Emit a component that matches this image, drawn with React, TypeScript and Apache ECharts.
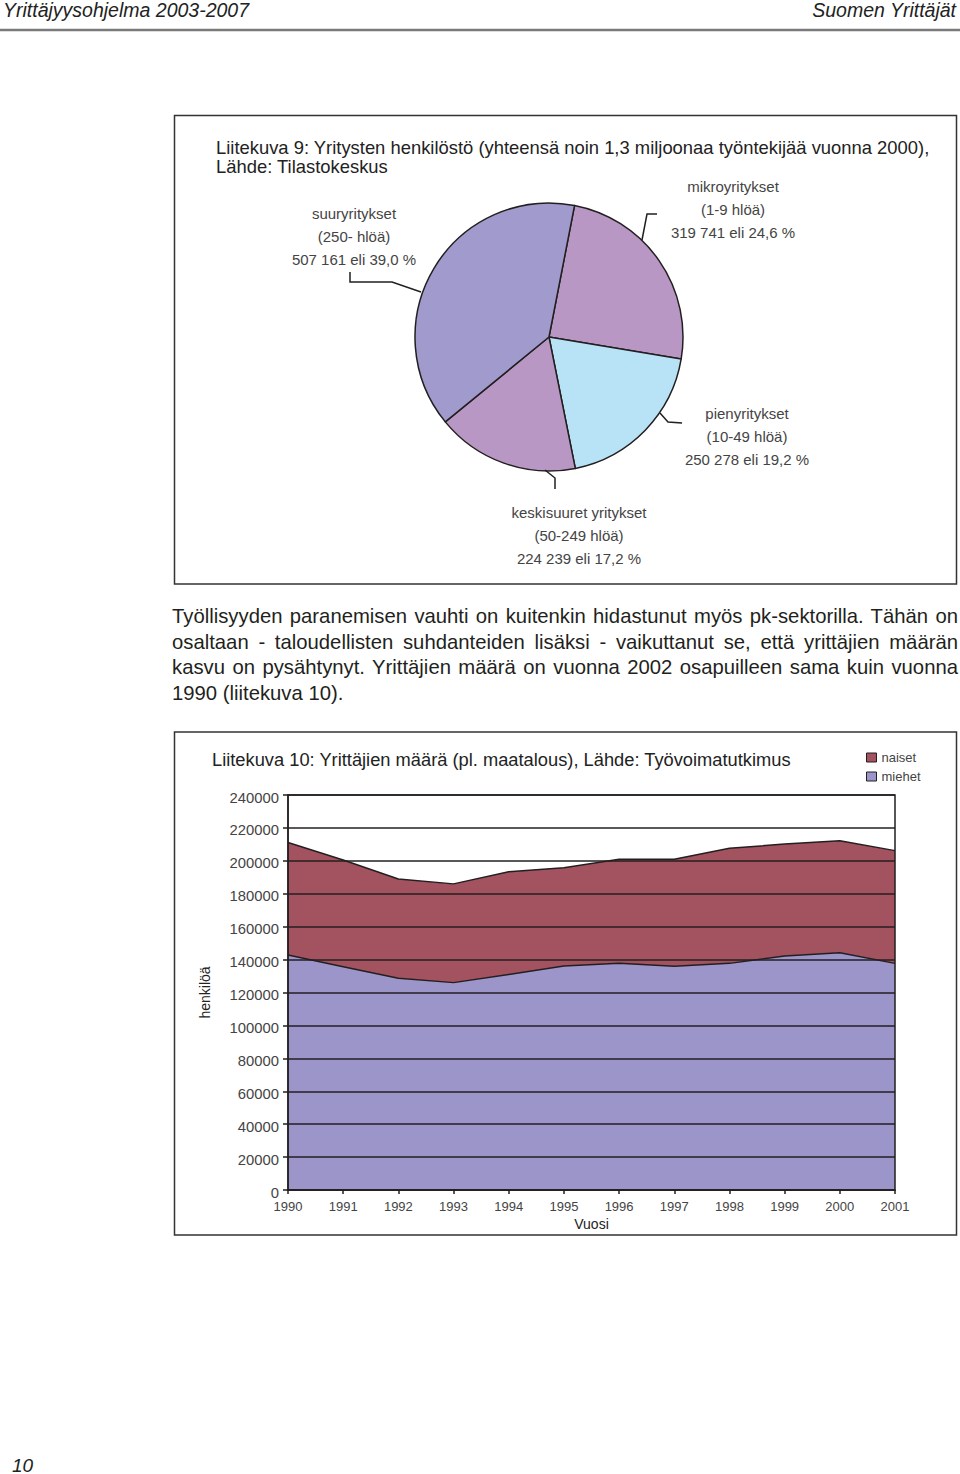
import React, { useEffect, useRef } from "react";
import * as echarts from "echarts";

// ---- Pie data (Liitekuva 9) ----
const pieNames = ["mikroyritykset", "pienyritykset", "keskisuuret yritykset", "suuryritykset"];
const pieRanges = ["(1-9 hlöä)", "(10-49 hlöä)", "(50-249 hlöä)", "(250- hlöä)"];
const pieValues = [319741, 250278, 224239, 507161];
const pieColors = ["#B997C5", "#B8E3F6", "#B997C5", "#A09BCC"];

// ---- Area data (Liitekuva 10) ----
const years = ["1990", "1991", "1992", "1993", "1994", "1995", "1996", "1997", "1998", "1999", "2000", "2001"];
const miehet = [142800, 135700, 128600, 126000, 131000, 136100, 137700, 135900, 137700, 142200, 144200, 137700];
const naiset = [68300, 64800, 60400, 60000, 62400, 59700, 63200, 65000, 69900, 68000, 68000, 68500];
const yMin = 0;
const yMax = 240000;
const yInterval = 20000;

const paragraphLines = [
  "Työllisyyden paranemisen vauhti on kuitenkin hidastunut myös pk-sektorilla. Tähän on",
  "osaltaan - taloudellisten suhdanteiden lisäksi - vaikuttanut se, että yrittäjien määrän",
  "kasvu on pysähtynyt. Yrittäjien määrä on vuonna 2002 osapuilleen sama kuin vuonna",
  "1990 (liitekuva 10).",
];

const FONT = "'Liberation Sans', Arial, Helvetica, sans-serif";
const DARK = "#231F20";

const labelPos: [number, number][] = [
  [733, 209],
  [747, 436],
  [579, 535],
  [354, 236],
];

const fmtThousands = (v: number) => String(v).replace(/\B(?=(\d{3})+(?!\d))/g, " ");
const pieTotal = pieValues.reduce((a, b) => a + b, 0);

export default function App() {
  const ref = useRef<HTMLDivElement>(null);

  useEffect(() => {
    if (!ref.current) return;
    const chart = echarts.init(ref.current, undefined, { renderer: "svg" });

    const leader = (pts: number[][]) => ({
      type: "polyline",
      shape: { points: pts },
      style: { stroke: DARK, lineWidth: 1.5, fill: null },
      z: 10,
    });

    const option: any = {
      animation: false,
      textStyle: { fontFamily: FONT },
      graphic: [
        { type: "rect", shape: { x: 174.5, y: 115.5, width: 782, height: 468.5 }, style: { fill: null, stroke: "#333", lineWidth: 1.5 } },
        { type: "rect", shape: { x: 174.5, y: 732, width: 782, height: 503 }, style: { fill: null, stroke: "#333", lineWidth: 1.5 } },
        { type: "line", shape: { x1: 0, y1: 30, x2: 960, y2: 30 }, style: { stroke: "#7a7a7a", lineWidth: 2.5 } },
        { type: "text", x: 3, y: 10, style: { text: "Yrittäjyysohjelma 2003-2007", font: `italic 19.5px ${FONT}`, fill: "#222", verticalAlign: "middle" } },
        { type: "text", x: 956, y: 10, style: { text: "Suomen Yrittäjät", font: `italic 19.5px ${FONT}`, fill: "#222", align: "right", verticalAlign: "middle" } },
        { type: "text", x: 12, y: 1465, style: { text: "10", font: `italic 19px ${FONT}`, fill: "#222", verticalAlign: "middle" } },
        { type: "text", x: 216, y: 147, style: { text: "Liitekuva 9: Yritysten henkilöstö (yhteensä noin 1,3 miljoonaa työntekijää vuonna 2000),", font: `18.4px ${FONT}`, fill: "#222", verticalAlign: "middle" } },
        { type: "text", x: 216, y: 166, style: { text: "Lähde: Tilastokeskus", font: `18.4px ${FONT}`, fill: "#222", verticalAlign: "middle" } },
        { type: "text", x: 212, y: 759, style: { text: "Liitekuva 10: Yrittäjien määrä (pl. maatalous), Lähde: Työvoimatutkimus", font: `18.3px ${FONT}`, fill: "#222", verticalAlign: "middle" } },
        leader([[350, 272], [350, 282], [392, 282], [421, 292]]),
        leader([[657, 214], [647, 214], [642, 240]]),
        leader([[660, 413], [668, 422], [682, 423]]),
        leader([[545, 470], [555, 478], [555, 489]]),
      ],
      legend: {
        data: ["naiset", "miehet"],
        orient: "vertical",
        left: 861,
        top: 746,
        itemWidth: 10,
        itemHeight: 9,
        itemGap: 6,
        icon: "rect",
        itemStyle: { borderColor: DARK, borderWidth: 1 },
        textStyle: { fontSize: 13, color: "#444", fontFamily: FONT },
      },
      grid: {
        left: 288,
        top: 795,
        width: 607,
        height: 395,
        show: true,
        borderColor: DARK,
        borderWidth: 1.5,
        backgroundColor: "transparent",
        z: 3,
      },
      xAxis: {
        type: "category",
        data: years,
        boundaryGap: false,
        axisLine: { lineStyle: { color: DARK, width: 1.5 } },
        axisTick: { show: true, length: 4, lineStyle: { color: DARK, width: 1.5 } },
        axisLabel: { fontSize: 13, color: "#444", margin: 10, fontFamily: FONT },
        name: "Vuosi",
        nameLocation: "middle",
        nameGap: 27,
        nameTextStyle: { fontSize: 14, color: "#222", fontFamily: FONT },
        z: 4,
      },
      yAxis: {
        type: "value",
        min: yMin,
        max: yMax,
        interval: yInterval,
        axisLine: { show: true, lineStyle: { color: DARK, width: 1.5 } },
        axisTick: { show: true, length: 5, lineStyle: { color: DARK, width: 1.5 } },
        splitLine: { show: true, lineStyle: { color: DARK, width: 1.5 } },
        axisLabel: {
          fontSize: 14.8,
          color: "#444",
          margin: 9,
          fontFamily: FONT,
          formatter: (v: number) => String(v),
          verticalAlign: "top",
          lineHeight: 5,
        },
        name: "henkilöä",
        nameLocation: "middle",
        nameGap: 76,
        nameTextStyle: { fontSize: 14, color: "#222", fontFamily: FONT },
        z: 4,
      },
      series: [
        {
          type: "pie",
          center: [549, 337],
          radius: 134,
          startAngle: 79,
          clockwise: true,
          avoidLabelOverlap: false,
          silent: true,
          data: pieNames.map((n, i) => ({ name: n, value: pieValues[i], itemStyle: { color: pieColors[i] } })),
          itemStyle: { borderColor: DARK, borderWidth: 1.5 },
          label: {
            show: true,
            position: "outside",
            fontSize: 15,
            lineHeight: 23,
            color: "#444",
            fontFamily: FONT,
            align: "center",
            formatter: (p: any) =>
              `${p.name}\n${pieRanges[p.dataIndex]}\n${fmtThousands(p.value)} eli ${((p.value / pieTotal) * 100).toFixed(1).replace(".", ",")} %`,
          },
          labelLine: { show: false },
          labelLayout: (p: any) => ({
            x: labelPos[p.dataIndex][0],
            y: labelPos[p.dataIndex][1],
            align: "center",
            verticalAlign: "middle",
          }),
        },
        {
          name: "miehet",
          type: "line",
          stack: "total",
          data: miehet,
          symbol: "none",
          color: "#9B95C9",
          itemStyle: { color: "#9B95C9" },
          lineStyle: { color: DARK, width: 1.5 },
          areaStyle: { color: "#9B95C9", opacity: 1 },
          z: 2,
        },
        {
          name: "naiset",
          type: "line",
          stack: "total",
          data: naiset,
          symbol: "none",
          color: "#A3525F",
          itemStyle: { color: "#A3525F" },
          lineStyle: { color: DARK, width: 1.5 },
          areaStyle: { color: "#A3525F", opacity: 1 },
          z: 2,
        },
      ],
    };

    chart.setOption(option);
    return () => chart.dispose();
  }, []);

  return (
    <div style={{ position: "absolute", left: 0, top: 0, width: 960, height: 1474, background: "#fff" }}>
      <div ref={ref} style={{ position: "absolute", left: 0, top: 0, width: 960, height: 1474 }} />
      <div
        style={{
          position: "absolute",
          left: 172,
          top: 604,
          width: 786,
          fontFamily: FONT,
          fontSize: 20.3,
          lineHeight: "25.7px",
          color: DARK,
        }}
      >
        {paragraphLines.map((l, i) => (
          <div
            key={i}
            style={{
              whiteSpace: "nowrap",
              textAlign: "justify",
              textAlignLast: i < paragraphLines.length - 1 ? "justify" : "left",
            }}
          >
            {l}
          </div>
        ))}
      </div>
    </div>
  );
}
